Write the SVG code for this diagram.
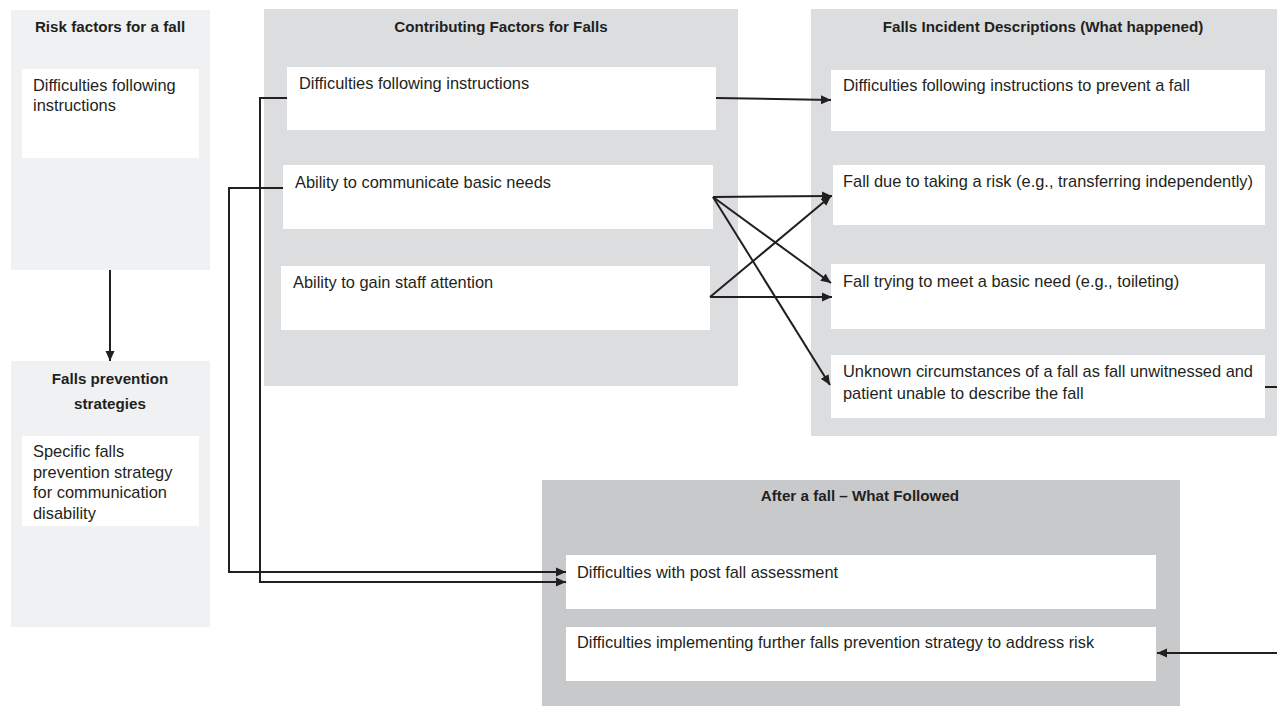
<svg xmlns="http://www.w3.org/2000/svg" width="1277" height="706" viewBox="0 0 1277 706">
<defs>
<marker id="ah" viewBox="0 0 10 10" refX="10" refY="5" markerWidth="10" markerHeight="10" markerUnits="userSpaceOnUse" orient="auto">
<path d="M0,0.5 L10,5 L0,9.5 z" fill="#231f20"/>
</marker>
<style>
.p1{fill:#f0f1f2}
.p2{fill:#dcdddf}
.p3{fill:#c8c9cb}
.b{fill:#ffffff}
.t{font-family:"Liberation Sans",Arial,sans-serif;font-size:16.4px;fill:#231f20}
.h{font-family:"Liberation Sans",Arial,sans-serif;font-size:15.2px;font-weight:bold;fill:#231f20;text-anchor:middle}
.c{fill:none;stroke:#231f20;stroke-width:2}
.a{fill:none;stroke:#231f20;stroke-width:2;marker-end:url(#ah)}
</style>
</defs>
<rect width="1277" height="706" fill="#ffffff"/>

<g id="risk">
<rect class="p1" x="11" y="10" width="199" height="260"/>
<text class="h" x="110" y="32">Risk factors for a fall</text>
<rect class="b" x="22" y="69" width="177" height="89"/>
<text class="t" x="33" y="91">Difficulties following</text>
<text class="t" x="33" y="111">instructions</text>
</g>

<g id="prevention">
<rect class="p1" x="11" y="361" width="199" height="266"/>
<text class="h" x="110" y="384">Falls prevention</text>
<text class="h" x="110" y="409">strategies</text>
<rect class="b" x="22" y="436" width="177" height="90"/>
<text class="t" x="33" y="457">Specific falls</text>
<text class="t" x="33" y="478">prevention strategy</text>
<text class="t" x="33" y="498">for communication</text>
<text class="t" x="33" y="519">disability</text>
</g>

<g id="contributing">
<rect class="p2" x="264" y="9" width="474" height="377"/>
<text class="h" x="501" y="32">Contributing Factors for Falls</text>
<rect class="b" x="287" y="67" width="429" height="63"/>
<text class="t" x="299" y="89">Difficulties following instructions</text>
<rect class="b" x="283" y="165" width="430" height="64"/>
<text class="t" x="295" y="188">Ability to communicate basic needs</text>
<rect class="b" x="281" y="266" width="429" height="64"/>
<text class="t" x="293" y="288">Ability to gain staff attention</text>
</g>

<g id="incident">
<rect class="p2" x="811" y="9" width="466" height="427"/>
<text class="h" x="1043" y="32">Falls Incident Descriptions (What happened)</text>
<rect class="b" x="831" y="70" width="434" height="61"/>
<text class="t" x="843" y="91">Difficulties following instructions to prevent a fall</text>
<rect class="b" x="833" y="165" width="432" height="60"/>
<text class="t" x="843" y="187">Fall due to taking a risk (e.g., transferring independently)</text>
<rect class="b" x="831" y="264" width="434" height="65"/>
<text class="t" x="843" y="287">Fall trying to meet a basic need (e.g., toileting)</text>
<rect class="b" x="831" y="355" width="434" height="63"/>
<text class="t" x="843" y="377">Unknown circumstances of a fall as fall unwitnessed and</text>
<text class="t" x="843" y="399">patient unable to describe the fall</text>
</g>

<g id="after">
<rect class="p3" x="542" y="480" width="638" height="226"/>
<text class="h" x="860" y="501">After a fall – What Followed</text>
<rect class="b" x="566" y="555" width="590" height="54"/>
<text class="t" x="577" y="578">Difficulties with post fall assessment</text>
<rect class="b" x="566" y="627" width="590" height="54"/>
<text class="t" x="577" y="648">Difficulties implementing further falls prevention strategy to address risk</text>
</g>

<g id="connectors">
<path class="a" d="M110,270 V361"/>
<path class="a" d="M716,98 L831,100"/>
<path class="a" d="M713,197 L832,196"/>
<path class="a" d="M713,197 L831,283"/>
<path class="a" d="M713,197 L830,385"/>
<path class="a" d="M710,297 L831,196"/>
<path class="a" d="M710,297 L832,297"/>
<path class="a" d="M287,98 H260 V582 H566"/>
<path class="a" d="M283,188 H229 V572 H566"/>
<path class="c" d="M1265,387 H1277"/>
<path class="a" d="M1277,653 H1157"/>
</g>
</svg>
